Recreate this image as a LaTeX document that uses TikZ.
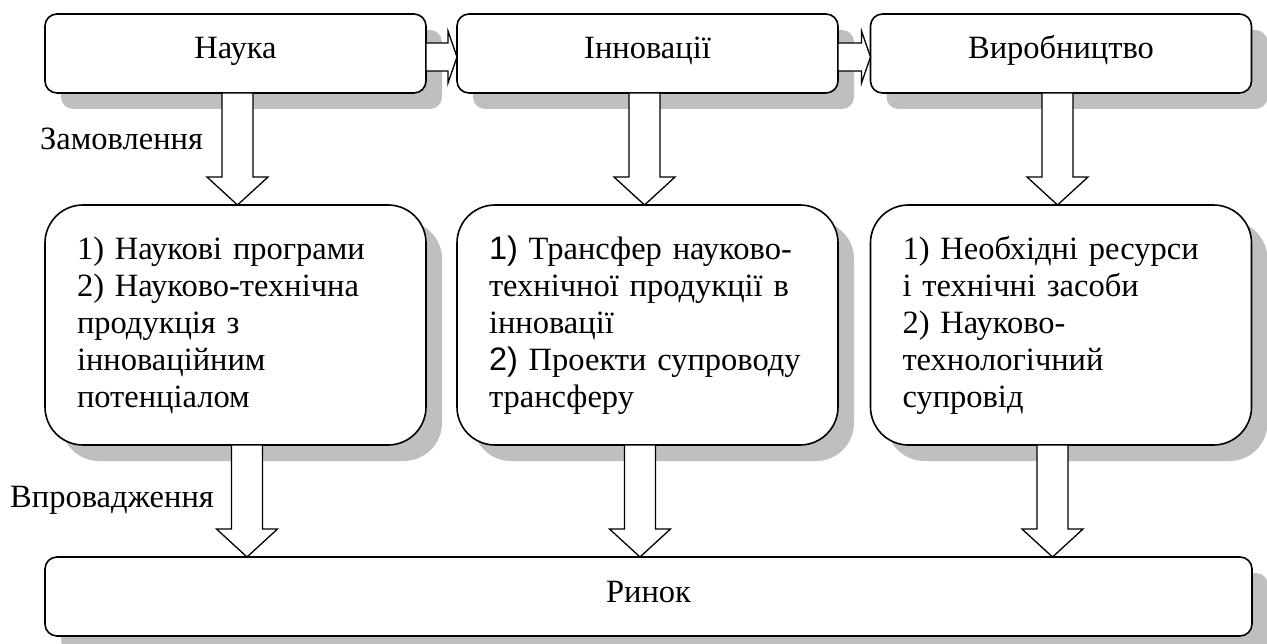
\documentclass[tikz,border=0pt]{standalone}
\usepackage{fontspec}
\setmainfont{Liberation Serif}
\newfontfamily\sansnum{Liberation Sans}
\usetikzlibrary{shadows,calc}

\tikzset{
  boxbase/.style={draw, line width=1.6pt, fill=white, inner sep=0pt, outer sep=0pt,
    drop shadow={shadow xshift=16pt, shadow yshift=-16pt, fill=black!25, opacity=1}},
  topbox/.style={boxbase, rounded corners=12pt, minimum width=381pt, minimum height=79pt,
    text height=21pt, text depth=10pt},
  midbox/.style={boxbase, rounded corners=38pt, minimum width=381pt, minimum height=240pt,
    text width=317pt, align=left},
  marketbox/.style={boxbase, rounded corners=12pt, minimum width=1207pt, minimum height=79pt,
    text height=21pt, text depth=10pt},
  blockarrow/.style={draw, line width=1.3pt, fill=white, line join=miter},
  lbl/.style={inner sep=0pt, anchor=base west},
}

% wide downward arrow from the bottom of #1 to the top of #2, shifted by #3
\newcommand\vblock[3]{%
  \path[blockarrow] let \p1=($(#1.south)+(#3,0)$), \p2=(#2.north) in
    (\x1-15.5pt,\y1) -- (\x1-15.5pt,\y2+28pt) -- (\x1-30.5pt,\y2+28pt) -- (\x1,\y2)
    -- (\x1+30.5pt,\y2+28pt) -- (\x1+15.5pt,\y2+28pt) -- (\x1+15.5pt,\y1) -- cycle;
}
% wide rightward arrow from the right side of #1 to the left side of #2, shifted by #3
\newcommand\hblock[3]{%
  \path[blockarrow] let \p1=($(#1.east)+(0,#3)$), \p2=(#2.west) in
    (\x1,\y1+14pt) -- (\x2-9pt,\y1+14pt) -- (\x2-9pt,\y1+26pt) -- (\x2,\y1)
    -- (\x2-9pt,\y1-26pt) -- (\x2-9pt,\y1-14pt) -- (\x1,\y1-14pt) -- cycle;
}

\begin{document}
\begin{tikzpicture}[x=1pt, y=-1pt, font=\fontsize{32.5pt}{37pt}\selectfont]
  \useasboundingbox (0,0) rectangle (1267,644);

  % top row
  \node[topbox] (science) at (235.5,53.5) {Наука};
  \node[topbox] (innov)   at (647.5,53.5) {Інновації};
  \node[topbox] (prod)    at (1061,53.5)  {Виробництво};

  % middle row
  \node[midbox] (sciencelist) at (235.5,325) {1) Наукові програми\\
    2) Науково-технічна\\ продукція з\\ інноваційним\\ потенціалом};
  \node[midbox] (innovlist) at (647.5,325) {{\sansnum 1)} Трансфер науково-\\
    технічної продукції в\\ інновації\\ {\sansnum 2)} Проекти супроводу\\ трансферу};
  \node[midbox] (prodlist) at (1061,325) {1) Необхідні ресурси\\
    і технічні засоби\\ 2) Науково-\\ технологічний\\ супровід};

  % bottom row
  \node[marketbox] (market) at (648.5,596.5) {Ринок};

  % arrows along the top row
  \hblock{science}{innov}{3.5}
  \hblock{innov}{prod}{3.5}

  % arrows from the top row down to the lists
  \vblock{science}{sciencelist}{2}
  \vblock{innov}{innovlist}{-3}
  \vblock{prod}{prodlist}{-3.5}

  % arrows from the lists down to the market
  \vblock{sciencelist}{market}{11.5}
  \vblock{innovlist}{market}{-7.5}
  \vblock{prodlist}{market}{-8.5}

  % labels
  \node[lbl] (order) at (40,150) {Замовлення};
  \node[lbl] (impl)  at (10,507) {Впровадження};
\end{tikzpicture}
\end{document}
